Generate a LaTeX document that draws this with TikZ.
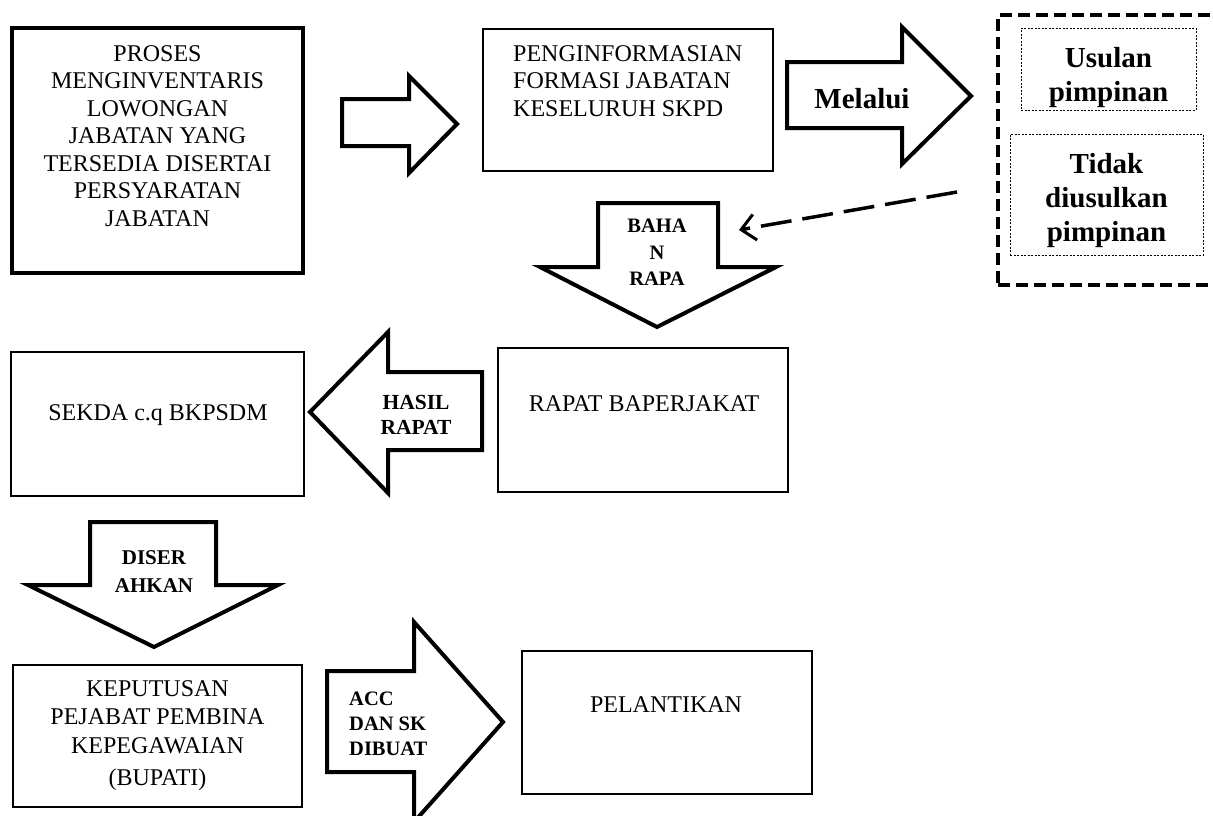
\documentclass[tikz,border=0pt]{standalone}
\usepackage{fontspec}
\setmainfont{Liberation Serif}
\usetikzlibrary{arrows.meta}
\begin{document}
\begin{tikzpicture}[x=1pt,y=-1pt,
  plainbox/.style={draw,line width=1.2pt,inner sep=0pt},
  thickbox/.style={draw,line width=3.5pt,inner sep=0pt},
  blockarrow/.style={draw,line width=4pt,fill=white,line join=miter},
  outerdash/.style={draw,line width=3.5pt,dash pattern=on 12pt off 6pt,inner sep=0pt},
  innerdot/.style={draw,line width=0.9pt,dash pattern=on 2pt off 1.5pt,inner sep=0pt},
  normtxt/.style={inner sep=0pt,font=\fontsize{24}{27.5}\selectfont},
  boldlbl/.style={inner sep=0pt,align=center,font=\bfseries\fontsize{21}{26.5}\selectfont},
  bigbold/.style={inner sep=0pt,align=center,font=\bfseries\fontsize{29}{34}\selectfont}
]
\useasboundingbox (0,0) rectangle (1213,815);
\fill[white] (0,0) rectangle (1213,815);

% boxes
\node[thickbox,minimum width=291pt,minimum height=245pt] (b1) at (157.5,150.5) {};
\node[plainbox,minimum width=290pt,minimum height=142pt] (b2) at (628,100) {};
\node[plainbox,minimum width=293pt,minimum height=144pt] (sekda) at (157.5,424) {};
\node[plainbox,minimum width=290pt,minimum height=144pt] (rapat) at (643,420) {};
\node[plainbox,minimum width=289pt,minimum height=142pt] (kep) at (157.5,736) {};
\node[plainbox,minimum width=290pt,minimum height=143pt] (pel) at (667,722.5) {};
\node[outerdash,minimum width=232pt,minimum height=270pt] (outer) at (1114,150) {};
\node[innerdot,minimum width=175pt,minimum height=82pt] (usul) at (1108.5,69) {};
\node[innerdot,minimum width=193pt,minimum height=121pt] (tidak) at (1106.5,194.5) {};

% box texts
\node[normtxt,align=center,anchor=north] (t1) at (157.5,45) {PROSES\\MENGINVENTARIS\\LOWONGAN\\JABATAN YANG\\TERSEDIA DISERTAI\\PERSYARATAN\\JABATAN};
\node[normtxt,align=left,anchor=north west] (t2) at (513,45) {PENGINFORMASIAN\\FORMASI JABATAN\\KESELURUH SKPD};
\node[normtxt,anchor=base] (t3) at (158,420) {SEKDA c.q BKPSDM};
\node[normtxt,anchor=base] (t4) at (644,411) {RAPAT BAPERJAKAT};
\node[normtxt,align=center,anchor=north,font=\fontsize{24}{28.5}\selectfont] (t5) at (157.5,680) {KEPUTUSAN\\PEJABAT PEMBINA\\KEPEGAWAIAN\\[4pt](BUPATI)};
\node[normtxt,anchor=base] (t6) at (666,712) {PELANTIKAN};
\node[bigbold,anchor=north] (t7) at (1108.5,47) {Usulan\\pimpinan};
\node[bigbold,anchor=north] (t8) at (1106.5,153) {Tidak\\diusulkan\\pimpinan};

% block arrows
\draw[blockarrow] (342,99) -- (409,99) -- (409,76) -- (457,124) -- (409,173) -- (409,146) -- (342,146) -- cycle;
\draw[blockarrow] (787,62) -- (902,62) -- (902,27) -- (971,96) -- (902,164) -- (902,128) -- (787,128) -- cycle;
\node[bigbold] (melalui) at (862,99) {Melalui};
\draw[blockarrow] (598,203) -- (718,203) -- (718,267) -- (776,267) -- (657,327) -- (540,267) -- (598,267) -- cycle;
\node[boldlbl,anchor=north,font=\bfseries\fontsize{20.5}{26.5}\selectfont] (bahan) at (657,219) {BAHA\\N\\RAPA};
\draw[blockarrow] (482,372) -- (388,372) -- (388,332) -- (310,412) -- (388,493) -- (388,450) -- (482,450) -- cycle;
\node[boldlbl,anchor=north,font=\bfseries\fontsize{21.5}{25}\selectfont] (hasil) at (416,395) {HASIL\\RAPAT};
\draw[blockarrow] (90,522) -- (216,522) -- (216,585) -- (278,585) -- (154,647) -- (28,585) -- (90,585) -- cycle;
\node[boldlbl,anchor=north,font=\bfseries\fontsize{21}{28}\selectfont] (diser) at (154,550) {DISER\\AHKAN};
\draw[blockarrow] (327,671) -- (414,671) -- (414,622) -- (503,722) -- (414,822) -- (414,772) -- (327,772) -- cycle;
\node[boldlbl,align=left,anchor=north west,font=\bfseries\fontsize{20.5}{25}\selectfont] (acc) at (349,692) {ACC\\DAN SK\\DIBUAT};

% dashed connector
\coordinate (dsrc) at (957,192);
\coordinate (ddst) at (739,230);
\draw[line width=3.5pt,dash pattern=on 31pt off 11pt,-{Straight Barb[length=14pt,width=26pt,line width=3pt]}] (dsrc) -- (ddst);
\end{tikzpicture}
\end{document}
